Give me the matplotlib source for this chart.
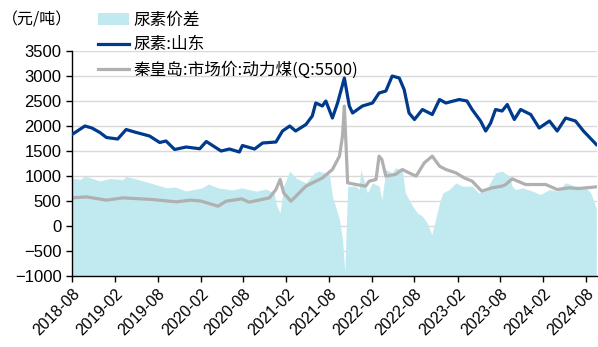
#!/usr/bin/python3

# urea price vs thermal coal price, with urea spread area

import matplotlib
matplotlib.use('Agg')
import matplotlib.pyplot as plt
import matplotlib.dates as mdates
import pandas as pd

plt.rcParams['font.family'] = ['Liberation Sans', 'Noto Sans CJK SC', 'DejaVu Sans']

# data
urea_dates = [
    '2018-08-01', '2018-09-25', '2018-10-25', '2018-11-28', '2018-12-26', '2019-02-12',
    '2019-03-20', '2019-04-25', '2019-06-28', '2019-08-10', '2019-09-06', '2019-10-13',
    '2019-12-01', '2020-01-28', '2020-02-25', '2020-04-28', '2020-06-03', '2020-07-15',
    '2020-07-28', '2020-09-18', '2020-10-22', '2020-12-18', '2021-01-15', '2021-02-15',
    '2021-03-12', '2021-04-25', '2021-05-22', '2021-06-06', '2021-07-04', '2021-07-19',
    '2021-08-16', '2021-09-07', '2021-10-06', '2021-10-27', '2021-11-10', '2021-12-22',
    '2022-02-03', '2022-03-03', '2022-04-01', '2022-04-28', '2022-05-28', '2022-06-18',
    '2022-07-09', '2022-08-01', '2022-09-04', '2022-10-16', '2022-11-16', '2022-12-13',
    '2023-02-08', '2023-03-13', '2023-04-04', '2023-05-10', '2023-06-01', '2023-06-22',
    '2023-07-13', '2023-08-10', '2023-09-01', '2023-10-01', '2023-10-28', '2023-12-10',
    '2024-01-15', '2024-02-28', '2024-04-01', '2024-05-07', '2024-06-18', '2024-07-22',
    '2024-09-15',
]
urea_vals = [
    1830, 2000, 1960, 1870, 1770, 1740,
    1930, 1880, 1800, 1670, 1700, 1530,
    1580, 1545, 1690, 1500, 1540, 1480,
    1610, 1540, 1660, 1680, 1900, 2000,
    1900, 2030, 2200, 2460, 2400, 2500,
    2160, 2460, 2960, 2400, 2260, 2400,
    2460, 2660, 2700, 3000, 2960, 2730,
    2260, 2130, 2330, 2230, 2530, 2460,
    2530, 2500, 2330, 2100, 1900, 2060,
    2330, 2300, 2430, 2130, 2330, 2230,
    1960, 2100, 1900, 2160, 2100, 1900,
    1630,
]

coal_dates = [
    '2018-08-01', '2018-10-01', '2018-12-26', '2019-03-05', '2019-07-10', '2019-10-20',
    '2019-12-20', '2020-02-01', '2020-04-15', '2020-05-20', '2020-07-25', '2020-08-25',
    '2020-11-20', '2020-12-18', '2021-01-05', '2021-01-20', '2021-02-20', '2021-04-25',
    '2021-07-05', '2021-08-16', '2021-09-15', '2021-09-28', '2021-10-06', '2021-10-20',
    '2021-11-25', '2022-01-05', '2022-01-20', '2022-02-18', '2022-03-03', '2022-03-15',
    '2022-04-01', '2022-05-12', '2022-06-10', '2022-07-09', '2022-08-08', '2022-09-12',
    '2022-10-16', '2022-11-16', '2022-12-13', '2023-01-25', '2023-03-01', '2023-04-04',
    '2023-05-15', '2023-06-28', '2023-08-10', '2023-08-25', '2023-09-22', '2023-11-18',
    '2024-02-12', '2024-04-01', '2024-05-22', '2024-07-01', '2024-09-15',
]
coal_vals = [
    563, 583, 517, 563, 530, 483,
    517, 500, 397, 497, 543, 477,
    563, 730, 930, 663, 497, 797,
    963, 1130, 1397, 1797, 2400, 863,
    830, 797, 897, 930, 1397, 1330,
    997, 1030, 1130, 1063, 997, 1263,
    1397, 1197, 1130, 1063, 963, 897,
    697, 763, 797, 830, 943, 830,
    830, 730, 763, 750, 783,
]

spread_dates = [
    '2018-08-01', '2018-09-04', '2018-09-25', '2018-11-28', '2019-01-10', '2019-03-05',
    '2019-03-20', '2019-04-25', '2019-06-28', '2019-09-10', '2019-10-13', '2019-12-01',
    '2020-02-07', '2020-03-05', '2020-04-15', '2020-06-17', '2020-07-25', '2020-09-25',
    '2020-11-05', '2020-12-10', '2020-12-22', '2021-01-05', '2021-01-20', '2021-02-15',
    '2021-03-12', '2021-04-25', '2021-06-01', '2021-06-20', '2021-08-03', '2021-08-16',
    '2021-09-15', '2021-09-28', '2021-10-08', '2021-10-20', '2021-11-25', '2021-12-08',
    '2021-12-15', '2021-12-28', '2022-01-12', '2022-02-03', '2022-03-03', '2022-03-15',
    '2022-04-01', '2022-04-28', '2022-05-12', '2022-06-10', '2022-06-23', '2022-07-24',
    '2022-08-13', '2022-09-04', '2022-09-24', '2022-10-14', '2022-10-30', '2022-11-16',
    '2022-11-30', '2022-12-28', '2023-01-25', '2023-02-22', '2023-04-04', '2023-05-01',
    '2023-06-01', '2023-07-13', '2023-08-10', '2023-09-10', '2023-09-22', '2023-10-06',
    '2023-11-05', '2023-12-18', '2024-01-20', '2024-02-28', '2024-04-01', '2024-05-07',
    '2024-06-18', '2024-08-01', '2024-08-22', '2024-09-15',
]
spread_vals = [
    963, 930, 1000, 900, 950, 930,
    990, 950, 863, 763, 780, 700,
    763, 840, 763, 720, 763, 697,
    740, 663, 397, 263, 797, 1097,
    963, 863, 1063, 1097, 1030, 597,
    130, -270, -937, 797, 797, 730,
    1130, 930, 663, 863, 797, 530,
    1130, 1063, 1163, 1130, 663, 397,
    263, 197, 63, -170, 130, 463,
    663, 730, 863, 797, 797, 663,
    697, 1063, 1097, 997, 797, 730,
    763, 697, 630, 730, 697, 863,
    797, 763, 663, 350,
]

y_min, y_max = -1000, 3500
cjk = ['Noto Sans CJK SC', 'DejaVu Sans']

fig = plt.figure(figsize=(5.98, 3.47), dpi=100)
ax = fig.add_axes([0.1204, 0.2046, 0.878, 0.6484])

ax.fill_between(pd.to_datetime(spread_dates), y_min, spread_vals,
                color='#c0e9f0', linewidth=0, label='尿素价差', zorder=1)
ax.plot(pd.to_datetime(urea_dates), urea_vals, color='#003a8c', lw=2.3,
        label='尿素:山东', zorder=3)
ax.plot(pd.to_datetime(coal_dates), coal_vals, color='#b0b0b0', lw=2.3,
        label='秦皇岛:市场价:动力煤(Q:5500)', zorder=2)

ax.set_ylim(y_min, y_max)
ax.set_yticks(range(-1000, 3501, 500))
ax.set_xlim(pd.Timestamp('2018-08-01'), pd.Timestamp('2024-09-18'))
ax.xaxis.set_major_locator(mdates.MonthLocator(bymonth=[2, 8]))
ax.xaxis.set_major_formatter(mdates.DateFormatter('%Y-%m'))
plt.setp(ax.get_xticklabels(), rotation=45, ha='right', rotation_mode='anchor')

# adjust figure appearance
for i in ['top', 'right']:
    ax.spines[i].set_visible(False)
for i in ['left', 'bottom']:
    ax.spines[i].set_color('black')
    ax.spines[i].set_linewidth(1.0)
ax.tick_params(axis='y', labelsize=12, length=4.5, width=1, direction='out', pad=3)
ax.tick_params(axis='x', labelsize=11.5, length=4.5, width=1, direction='out', pad=3)
ax.yaxis.grid(True, color='#d9d9d9', linewidth=1)
ax.set_axisbelow(True)

fig.text(0.003, 0.942, '（元/吨）', fontsize=11.5, family=cjk, va='center', ha='left')
fig.legend(loc='upper left', bbox_to_anchor=(0.152, 0.985), frameon=False,
           prop={'family': cjk, 'size': 12},
           handlelength=1.9, handletextpad=0.25, labelspacing=0.45, borderaxespad=0)

fig.savefig('out.png', dpi=100)
